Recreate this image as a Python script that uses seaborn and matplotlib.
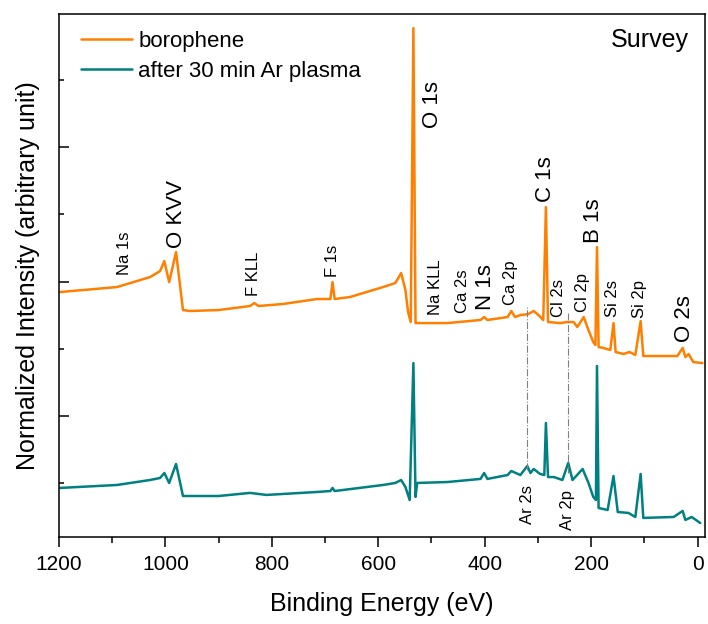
import numpy as np
import pandas as pd
import matplotlib
matplotlib.use("Agg")
import matplotlib.pyplot as plt
import seaborn as sns
from matplotlib.ticker import MultipleLocator, FixedLocator

# --- spectra (binding energy in eV, normalized intensity) ---
boro_be = [1198, 1091, 1029, 1010, 1002, 993, 980, 967, 954, 900, 841, 833, 825,
           779, 715, 690, 686, 682, 653, 591, 568, 557, 549, 544, 539, 534, 530,
           527, 470, 408, 401, 395, 357, 350, 343, 333, 318, 308, 299, 290, 285,
           281, 258, 245, 233, 226, 214, 205, 196, 192, 189, 186, 177, 164, 158,
           154, 139, 128, 117, 107, 102, 38, 28, 23, 17, 8, -9]
boro_int = [1.922, 1.959, 2.033, 2.078, 2.152, 1.996, 2.219, 1.788, 1.781, 1.788,
            1.818, 1.840, 1.818, 1.833, 1.870, 1.870, 1.996, 1.870, 1.885, 1.959,
            1.989, 2.063, 1.937, 1.773, 1.699, 3.885, 1.691, 1.691, 1.691, 1.714,
            1.736, 1.714, 1.736, 1.781, 1.736, 1.751, 1.758, 1.781, 1.751, 1.714,
            2.554, 1.699, 1.691, 1.699, 1.699, 1.662, 1.736, 1.639, 1.550, 1.528,
            2.257, 1.513, 1.506, 1.491, 1.691, 1.476, 1.461, 1.476, 1.454, 1.706,
            1.446, 1.446, 1.506, 1.439, 1.461, 1.401, 1.394]

plasma_be = [1198, 1091, 1029, 1010, 1002, 993, 980, 967, 900, 841, 810, 715, 690,
             686, 682, 591, 568, 557, 549, 541, 534, 530, 527, 470, 408, 401, 395,
             357, 350, 333, 320, 314, 308, 296, 288, 285, 281, 270, 254, 243, 235,
             216, 205, 196, 191, 189, 186, 169, 158, 150, 130, 117, 107, 102, 45,
             28, 23, 11, -5]
plasma_int = [0.465, 0.487, 0.524, 0.539, 0.576, 0.502, 0.643, 0.405, 0.405, 0.428,
              0.413, 0.435, 0.442, 0.465, 0.442, 0.487, 0.502, 0.524, 0.472, 0.375,
              1.394, 0.398, 0.502, 0.509, 0.532, 0.576, 0.532, 0.561, 0.591, 0.561,
              0.628, 0.576, 0.606, 0.569, 0.561, 0.948, 0.546, 0.546, 0.524, 0.651,
              0.524, 0.606, 0.502, 0.398, 0.375, 1.372, 0.316, 0.301, 0.554, 0.286,
              0.279, 0.249, 0.569, 0.242, 0.249, 0.294, 0.227, 0.249, 0.204]

# peak labels above the borophene spectrum
big_labels = ["O KVV", "O 1s", "N 1s", "C 1s", "B 1s", "O 2s"]
big_x = [980, 498, 399, 286, 196, 24]
big_y = [2.249, 3.141, 1.788, 2.591, 2.286, 1.550]

small_labels = ["Na 1s", "F KLL", "F 1s", "Na KLL", "Ca 2s", "Ca 2p",
                "Cl 2s", "Cl 2p", "Si 2s", "Si 2p"]
small_x = [1076, 835, 686, 493, 442, 352, 261, 216, 160, 109]
small_y = [2.048, 1.892, 2.033, 1.751, 1.766, 1.825, 1.736, 1.773, 1.736, 1.729]

# argon markers (dash-dot guide lines + labels below)
ar_labels = ["Ar 2s", "Ar 2p"]
ar_x = [320, 244]
ar_line_lo = [0.599, 0.576]
ar_line_hi = [1.810, 1.766]
ar_text_y = [0.487, 0.450]

orange = "#ff7f00"
teal = "#008080"

sns.set_theme(style="ticks")
plt.rcParams["font.family"] = ["Liberation Sans", "DejaVu Sans"]
plt.rcParams.update({"text.color": "black", "axes.labelcolor": "black",
                     "xtick.color": "black", "ytick.color": "black"})

fig = plt.figure(figsize=(7.08, 6.24), dpi=100)
ax = fig.add_axes([0.0833, 0.1394, 0.9125, 0.8382])

boro = pd.DataFrame({"be": boro_be, "intensity": boro_int})
plasma = pd.DataFrame({"be": plasma_be, "intensity": plasma_int})
sns.lineplot(data=boro, x="be", y="intensity", color=orange, lw=1.8,
             estimator=None, sort=False, ax=ax, label="borophene")
sns.lineplot(data=plasma, x="be", y="intensity", color=teal, lw=1.8,
             estimator=None, sort=False, ax=ax, label="after 30 min Ar plasma")

for x, lo, hi in zip(ar_x, ar_line_lo, ar_line_hi):
    ax.plot([x, x], [lo, hi], color="gray", lw=0.8, ls="-.")

for lab, x, y in zip(big_labels, big_x, big_y):
    ax.text(x, y, lab, rotation=90, ha="center", va="bottom", fontsize=16)
for lab, x, y in zip(small_labels, small_x, small_y):
    ax.text(x, y, lab, rotation=90, ha="center", va="bottom", fontsize=12)
for lab, x, y in zip(ar_labels, ar_x, ar_text_y):
    ax.text(x, y, lab, rotation=90, ha="center", va="top", fontsize=12)

ax.text(17, 3.885, "Survey", ha="right", va="top", fontsize=18)

ax.set_xlim(1200, -14)
ax.set_ylim(0.1, 3.99)
ax.xaxis.set_major_locator(MultipleLocator(200))
ax.xaxis.set_minor_locator(MultipleLocator(100))
ax.yaxis.set_major_locator(FixedLocator([1, 2, 3]))
ax.yaxis.set_minor_locator(FixedLocator([0.5, 1.5, 2.5, 3.5]))
ax.tick_params(axis="x", which="major", direction="out", length=7, width=1.1,
               labelsize=15, pad=6, top=False)
ax.tick_params(axis="x", which="minor", direction="out", length=4, width=1.1, top=False)
ax.tick_params(axis="y", which="major", direction="in", length=7, width=1.1,
               labelleft=False, right=False)
ax.tick_params(axis="y", which="minor", direction="in", length=3.5, width=1.1, right=False)
for s in ax.spines.values():
    s.set_linewidth(1.1)
    s.set_color("black")

ax.set_xlabel("Binding Energy (eV)", fontsize=18, labelpad=13)
ax.set_ylabel("Normalized Intensity (arbitrary unit)", fontsize=18, labelpad=10)

ax.legend(loc="upper left", bbox_to_anchor=(0.008, 1.0), frameon=False, fontsize=16,
          handlelength=2.3, handletextpad=0.28, labelspacing=0.4, borderaxespad=0.35)

fig.savefig("out.png", dpi=100)
